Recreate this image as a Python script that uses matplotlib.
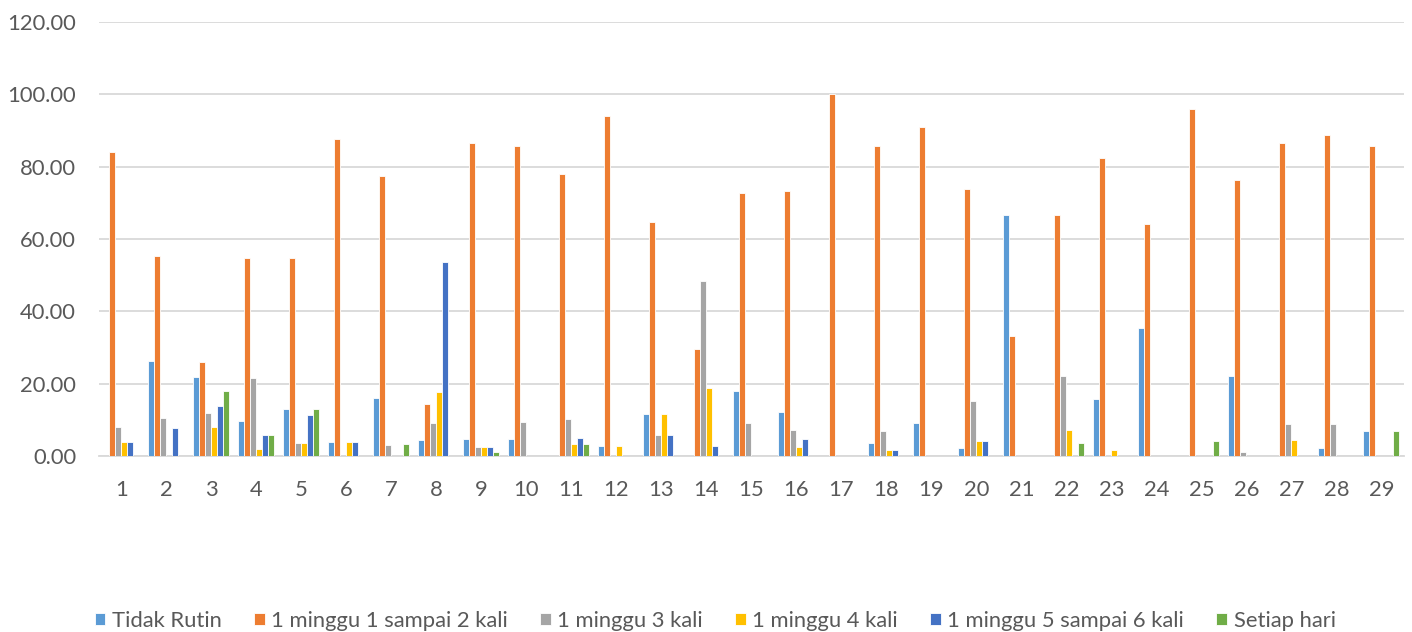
import matplotlib
matplotlib.use("Agg")
import matplotlib.pyplot as plt
import numpy as np

plt.rcParams['font.family'] = ['Lato', 'DejaVu Sans']

categories = [str(i) for i in range(1, 30)]
series_names = ["Tidak Rutin", "1 minggu 1 sampai 2 kali", "1 minggu 3 kali",
                "1 minggu 4 kali", "1 minggu 5 sampai 6 kali", "Setiap hari"]

tidak_rutin = [0, 26.2, 21.8, 9.7, 13.0, 3.9, 16.1, 4.4, 4.7, 4.6,
               0, 2.8, 11.6, 0, 18.0, 12.1, 0, 3.5, 9.1, 2.1,
               66.6, 0, 15.7, 35.4, 0, 22.2, 0, 2.1, 7.0]
seminggu_1_2 = [84.0, 55.2, 26.0, 54.9, 54.7, 87.8, 77.4, 14.3, 86.5, 85.7,
                77.9, 94.1, 64.6, 29.7, 72.7, 73.2, 100.0, 85.7, 90.9, 73.9,
                33.3, 66.6, 82.5, 64.3, 95.9, 76.4, 86.7, 88.9, 85.7]
seminggu_3 = [7.9, 10.5, 11.9, 21.5, 3.7, 0, 3.1, 9.1, 2.4, 9.4,
              10.2, 0, 5.8, 48.5, 9.1, 7.2, 0, 7.0, 0, 15.2,
              0, 22.1, 0, 0, 0, 1.0, 8.8, 8.8, 0]
seminggu_4 = [3.9, 0, 7.9, 1.8, 3.7, 3.9, 0, 17.7, 2.4, 0,
              3.2, 2.8, 11.6, 18.8, 0, 2.4, 0, 1.7, 0, 4.2,
              0, 7.3, 1.7, 0, 0, 0, 4.3, 0, 0]
seminggu_5_6 = [3.9, 7.8, 13.9, 5.8, 11.3, 3.9, 0, 53.7, 2.4, 0,
                5.0, 0, 5.8, 2.7, 0, 4.7, 0, 1.7, 0, 4.2,
                0, 0, 0, 0, 0, 0, 0, 0, 0]
setiap_hari = [0, 0, 17.9, 5.8, 13.0, 0, 3.2, 0, 1.1, 0,
               3.2, 0, 0, 0, 0, 0, 0, 0, 0, 0,
               0, 3.6, 0, 0, 4.1, 0, 0, 0, 7.0]

yticks = [0, 20, 40, 60, 80, 100, 120]
colors = ["#5B9BD5", "#ED7D31", "#A5A5A5", "#FFC000", "#4472C4", "#70AD47"]

all_series = [tidak_rutin, seminggu_1_2, seminggu_3, seminggu_4, seminggu_5_6, setiap_hari]

fig = plt.figure(figsize=(14.12, 6.32), dpi=100)
ax = fig.add_axes([0.070, 0.2785, 0.9243, 0.6864])

x = np.arange(len(categories))
bw = 0.133
for i, (vals, name, c) in enumerate(zip(all_series, series_names, colors)):
    ax.bar(x + (i - 2.5) * bw, vals, width=bw, color=c, edgecolor="white",
           linewidth=0.6, label=name, zorder=3)

ax.set_xlim(-0.5, len(categories) - 0.5)
ax.set_ylim(0, 120)
ax.set_yticks(yticks)
ax.set_yticklabels([f"{v:.2f}" for v in yticks])
ax.set_xticks(x)
ax.set_xticklabels(categories)
ax.tick_params(axis="both", length=0, labelsize=15.8, colors="#595959")
ax.tick_params(axis="x", pad=17)
ax.tick_params(axis="y", pad=16.4)
ax.grid(axis="y", color="#d9d9d9", linewidth=1.3, zorder=0)
for s in ["top", "right", "left"]:
    ax.spines[s].set_visible(False)
ax.spines["bottom"].set_color("#d9d9d9")
ax.spines["bottom"].set_linewidth(1.3)

leg = fig.legend(loc="center", bbox_to_anchor=(0.5064, 0.018), ncol=6, frameon=False,
                 fontsize=15.8, handlelength=0.5, handleheight=0.5, handletextpad=0.3,
                 columnspacing=1.45, borderpad=0)
for t in leg.get_texts():
    t.set_color("#595959")

fig.savefig("out.png", dpi=100)
